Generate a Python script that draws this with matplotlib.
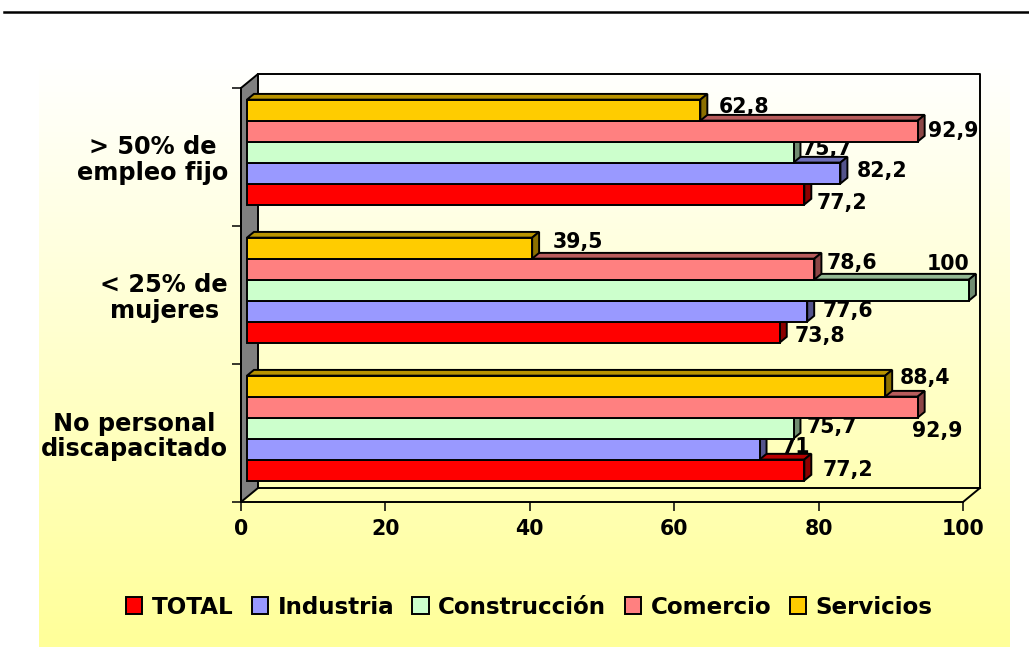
import numpy as np
import matplotlib
matplotlib.use("Agg")
import matplotlib.pyplot as plt
from matplotlib.patches import Polygon, Patch
from matplotlib.lines import Line2D
from matplotlib.colors import to_rgb

# ---- data -------------------------------------------------------------
categories = ["No personal\ndiscapacitado", "< 25% de\nmujeres", "> 50% de\nempleo fijo"]
series_names = ["TOTAL", "Industria", "Construcción", "Comercio", "Servicios"]
total = [77.2, 73.8, 77.2]
industria = [71, 77.6, 82.2]
construccion = [75.7, 100, 75.7]
comercio = [92.9, 78.6, 92.9]
servicios = [88.4, 39.5, 62.8]
x_ticks = [0, 20, 40, 60, 80, 100]

series_values = [total, industria, construccion, comercio, servicios]

# ---- style ------------------------------------------------------------
colors = ["#FF0000", "#9999FF", "#CCFFCC", "#FF8080", "#FFCC00"]
# nudges of the value labels (pixels right / pixels down), per series and category
label_nudges = [
    [(18.6, 0), (15, 4), (12.6, 8.7)],
    [(22, -2.5), (15, 0), (16.5, -2)],
    [(13.4, -1.5), (-42, -26), (8.5, -3.5)],
    [(-6, 23.5), (12.5, -6), (10, 0)],
    [(15, -8.5), (21, -6), (18.6, -3)],
]
FONT_VAL = 14.8
FONT_CAT = 17.3
FONT_LEG = 16.6
EDGE = 1.4
BAR_H = 0.152
DEPTH_PX = (17.0, 14.0)       # receding depth of the box (right, up)
FRONT_FRAC, BACK_FRAC = 0.35, 0.76

W, H = 1029, 647
fig = plt.figure(figsize=(W / 100, H / 100), dpi=100)
fig.patch.set_facecolor("white")

# gradient panel behind the chart
bg = fig.add_axes([39 / W, 0, (1010 - 39) / W, (H - 62) / H], zorder=0)
g = np.linspace(0, 1, 256).reshape(-1, 1, 1)
top_c = np.array([1.0, 1.0, 1.0]).reshape(1, 1, 3)
bot_c = np.array([1.0, 1.0, 0.6]).reshape(1, 1, 3)
bg.imshow(top_c + (bot_c - top_c) * g, aspect="auto", extent=[0, 1, 0, 1], origin="upper")
bg.axis("off")

# separator rule at the top
fig.add_artist(Line2D([4 / W, 1.0], [1 - 11.5 / H] * 2, color="black", lw=1.8,
                      transform=fig.transFigure))

AX_L, AX_B, AX_R, AX_T = 241, 502, 963, 88
ax = fig.add_axes([AX_L / W, (H - AX_B) / H, (AX_R - AX_L) / W, (AX_B - AX_T) / H], zorder=1)
ax.set_xlim(0, 100)
ax.set_ylim(-0.5, len(categories) - 0.5)
ax.patch.set_alpha(0)

px_x = (AX_R - AX_L) / 100.0
px_y = (AX_B - AX_T) / len(categories)


def depth(frac):
    return frac * DEPTH_PX[0] / px_x, frac * DEPTH_PX[1] / px_y


ddx, ddy = depth(1.0)
y0, y1 = -0.5, len(categories) - 0.5

# left wall
ax.add_patch(Polygon([(0, y0), (0, y1), (ddx, y1 + ddy), (ddx, y0 + ddy)], closed=True,
                     facecolor="#808080", edgecolor="black", lw=EDGE, zorder=1.5, clip_on=False))
# back wall and floor edges
frame_kw = dict(color="black", lw=1.4, zorder=1.6, clip_on=False, solid_capstyle="projecting")
ax.plot([ddx, 100 + ddx, 100 + ddx], [y1 + ddy, y1 + ddy, y0 + ddy], **frame_kw)
ax.plot([ddx, 100 + ddx], [y0 + ddy, y0 + ddy], **frame_kw)
ax.plot([100, 100 + ddx], [y0, y0 + ddy], **frame_kw)

fx, fy = depth(FRONT_FRAC)
bx, by = depth(BACK_FRAC)


def shade(c, k):
    r, g_, b = to_rgb(c)
    return (r * k, g_ * k, b * k)


def fmt(v):
    return f"{v:g}".replace(".", ",")


n = len(series_values)
for ci in range(len(categories)):
    for si in range(n):
        v = series_values[si][ci]
        yc = ci + (si - (n - 1) / 2) * BAR_H
        yb, yt = yc - BAR_H / 2, yc + BAR_H / 2
        z = 3 + si * 0.1
        col = colors[si]
        top = [(fx, yt + fy), (v + fx, yt + fy), (v + bx, yt + by), (bx, yt + by)]
        side = [(v + fx, yb + fy), (v + bx, yb + by), (v + bx, yt + by), (v + fx, yt + fy)]
        ax.add_patch(Polygon(top, closed=True, facecolor=shade(col, 0.72), edgecolor="black",
                             lw=EDGE, zorder=z, clip_on=False, joinstyle="miter"))
        ax.add_patch(Polygon(side, closed=True, facecolor=shade(col, 0.55), edgecolor="black",
                             lw=EDGE, zorder=z, clip_on=False, joinstyle="miter"))
        ax.barh(yb + fy, v, height=BAR_H, left=fx, align="edge", color=col,
                edgecolor="black", linewidth=EDGE, zorder=z + 0.01, clip_on=False)
        dxp, dyp = label_nudges[si][ci]
        ax.annotate(fmt(v), xy=(v + fx, yc + fy), xytext=(dxp, -dyp), textcoords="offset pixels",
                    ha="left", va="center", fontsize=FONT_VAL, fontweight="bold",
                    zorder=2.6, annotation_clip=False)

# axes cosmetics
for s in ("top", "right"):
    ax.spines[s].set_visible(False)
for s in ("left", "bottom"):
    ax.spines[s].set_linewidth(1.4)
    ax.spines[s].set_zorder(1.7)

ax.set_xticks(x_ticks)
ax.set_xticklabels([str(t) for t in x_ticks], fontsize=FONT_VAL, fontweight="bold")
ax.tick_params(axis="x", direction="out", length=6.5, width=1.1, pad=6)
ax.set_yticks(range(len(categories)))
ax.set_yticklabels(categories, fontsize=FONT_CAT, fontweight="bold", linespacing=1.1,
                   multialignment="center")
ax.tick_params(axis="y", which="major", length=0, pad=9.4)
ax.set_yticks(np.arange(len(categories) + 1) - 0.5, minor=True)
ax.tick_params(axis="y", which="minor", direction="out", length=6.5, width=1.1)

handles = [Patch(facecolor=c, edgecolor="black", linewidth=EDGE, label=nm)
           for c, nm in zip(colors, series_names)]
fig.legend(handles=handles, loc="center", bbox_to_anchor=(529 / W, (H - 607) / H), ncol=5,
           frameon=False, prop={"size": FONT_LEG, "weight": "bold"}, handlelength=0.72,
           handleheight=0.75, handletextpad=0.4, columnspacing=0.8, borderpad=0,
           borderaxespad=0)

fig.savefig("out.png", dpi=100)
